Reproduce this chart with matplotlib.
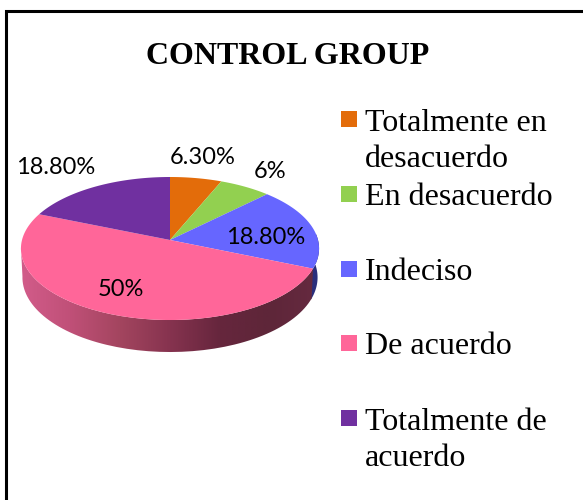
import numpy as np
import matplotlib
matplotlib.use("Agg")
import matplotlib.pyplot as plt
from matplotlib.colors import LinearSegmentedColormap
from matplotlib.patches import PathPatch, Rectangle
from matplotlib.path import Path
from matplotlib.transforms import Transform, Affine2D

title = "CONTROL GROUP"
categories = ["Totalmente en\ndesacuerdo", "En desacuerdo", "Indeciso", "De acuerdo", "Totalmente de\nacuerdo"]
values = [6.3, 6.3, 18.8, 50, 18.8]
value_labels = ["6.30%", "6%", "18.80%", "50%", "18.80%"]
colors = ["#E36C0A", "#92D050", "#6666FF", "#FF6699", "#7030A0"]

label_xy = [(203, 158), (270, 172), (266, 238), (121, 290), (56, 168)]
CX, CY, RX, RY, K = 170.0, 240.0, 148.0, 70.5, 0.119
SERIF = "Liberation Serif"


class Perspective(Transform):
    input_dims = output_dims = 2
    has_inverse = False

    def transform_non_affine(self, v):
        v = np.asarray(v, float)
        w = 1 + K * v[:, 1]
        return np.column_stack([CX + RX * v[:, 0] / w, CY - RY * v[:, 1] / w])

    def transform_path_non_affine(self, path):
        # flatten the wedge's curves finely before bending them
        poly = path.to_polygons(Affine2D().scale(2000), closed_only=False)[0] / 2000
        return Path(self.transform_non_affine(poly))


def rim(theta_from, theta_to):
    """Top edge and lower edge of the pie's wall; angles clockwise from 12 o'clock."""
    t = np.radians(np.linspace(theta_from, theta_to, 80))
    unit = np.column_stack([np.sin(t), np.cos(t)])
    top = Perspective().transform_non_affine(unit)
    low = top.copy()
    low[:, 0] = CX + (top[:, 0] - CX) * 0.99
    low[:, 1] += 28.5 - 3.5 * unit[:, 1]
    return np.vstack([top, low[::-1]])


fig = plt.figure(figsize=(5.83, 5.0), dpi=100, facecolor="white")
ax = fig.add_axes([0, 0, 1, 1])

wedges, _ = ax.pie(values, colors=colors, startangle=90, counterclock=False,
                   radius=1, wedgeprops={"linewidth": 0})
for w in wedges:
    w.set_transform(Perspective() + ax.transData)
    w.set_zorder(3)

# walls
shares = np.cumsum(values) / np.sum(values) * 360
blue_end, pink_end = shares[2], shares[3]
ax.fill(*rim(85, blue_end + 1).T, color="#2A2F7C", lw=0, zorder=1)

pink_wall = rim(blue_end, 264)
wall_cmap = LinearSegmentedColormap.from_list(
    "wall", ["#D25C8A", "#C05078", "#A3455F", "#86334F", "#66263D", "#5E2639", "#662A40"])
grad = ax.imshow(np.linspace(0, 1, 256)[None, :], cmap=wall_cmap, aspect="auto",
                 extent=(20, 320, 360, 240), zorder=2)
clip = PathPatch(Path(pink_wall), transform=ax.transData, fc="none", ec="none")
ax.add_patch(clip)
grad.set_clip_path(clip)

ax.set_aspect("auto")
ax.set_xlim(0, 583)
ax.set_ylim(500, 0)
ax.axis("off")

# frame (left and top only reach the picture)
ax.plot([6, 6, 583], [500, 11, 11], color="black", lw=2.2, solid_joinstyle="miter", zorder=5)

ax.text(288, 64, title, family=SERIF, weight="bold", fontsize=23, ha="center", va="baseline")

for txt, (x, y) in zip(value_labels, label_xy):
    ax.text(x, y, txt, family="Lato", fontsize=17, ha="center", va="center", color="black", zorder=6)

for i, (cat, col) in enumerate(zip(categories, colors)):
    y = 111 + i * 74.8
    ax.add_patch(Rectangle((341, y), 16, 16, fc=col, ec="none"))
    ax.text(365, y + 19 + 37 * cat.count("\n"), cat, family=SERIF, fontsize=23, ha="left",
            va="baseline", linespacing=1.33, color="black")

fig.savefig("out.png", dpi=100, facecolor="white")
